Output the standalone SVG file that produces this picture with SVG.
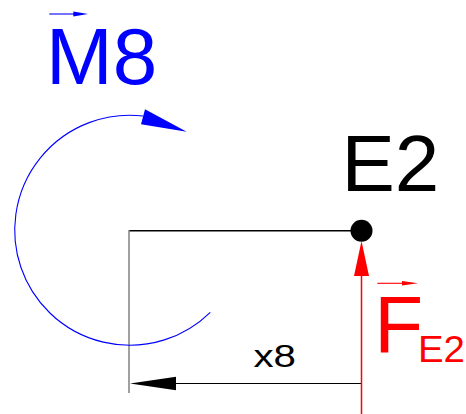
<svg xmlns="http://www.w3.org/2000/svg" width="466" height="414" viewBox="0 0 466 414">
<style>
text{font-family:"Liberation Sans",Arial,sans-serif}
.blue{fill:#0000ff}
.red{fill:#ff0000}
.blk{fill:#000}
</style>
<rect width="466" height="414" fill="#fff"/>
<g id="connectors">
<line x1="129" y1="230.7" x2="361" y2="230.7" stroke="#000" stroke-width="1.4"/>
<line x1="129" y1="230" x2="129" y2="393" stroke="#808080" stroke-width="1.5"/>
<line x1="140" y1="383.5" x2="361.5" y2="383.5" stroke="#000" stroke-width="1.1"/>
<polygon points="130,383.5 176,376.8 176,390.2" class="blk"/>
</g>
<g id="moment-M8">
<path d="M210.3,312.3 A115,115 0 1 1 143,116" fill="none" stroke="#0000ff" stroke-width="1.1"/>
<polygon points="145,109.3 141,124.3 186.7,131.7" class="blue"/>
<line x1="49.3" y1="14" x2="76" y2="14" stroke="#0000ff" stroke-width="1.1"/>
<polygon points="73.3,11.6 88,14 73.3,16.4" class="blue"/>
<text x="46" y="84" font-size="80" class="blue">M8</text>
</g>
<g id="node-E2">
<circle cx="361.5" cy="230.7" r="11" class="blk"/>
<text x="341.5" y="191" font-size="80" class="blk">E2</text>
</g>
<g id="force-FE2">
<line x1="361.5" y1="270" x2="361.5" y2="414" stroke="#ff0000" stroke-width="1.5"/>
<polygon points="361.5,241 354,276 369,276" class="red"/>
<line x1="377.3" y1="283.3" x2="404" y2="283.3" stroke="#ff0000" stroke-width="1.1"/>
<polygon points="402,281 418,283.3 402,285.6" class="red"/>
<text x="374.2" y="352" font-size="80" class="red">F</text>
<text x="418" y="362" font-size="36" textLength="47" lengthAdjust="spacingAndGlyphs" class="red">E2</text>
</g>
<g id="label-x8">
<text x="253.5" y="366.7" font-size="32" textLength="42.5" lengthAdjust="spacingAndGlyphs" class="blk">x8</text>
</g>
</svg>
